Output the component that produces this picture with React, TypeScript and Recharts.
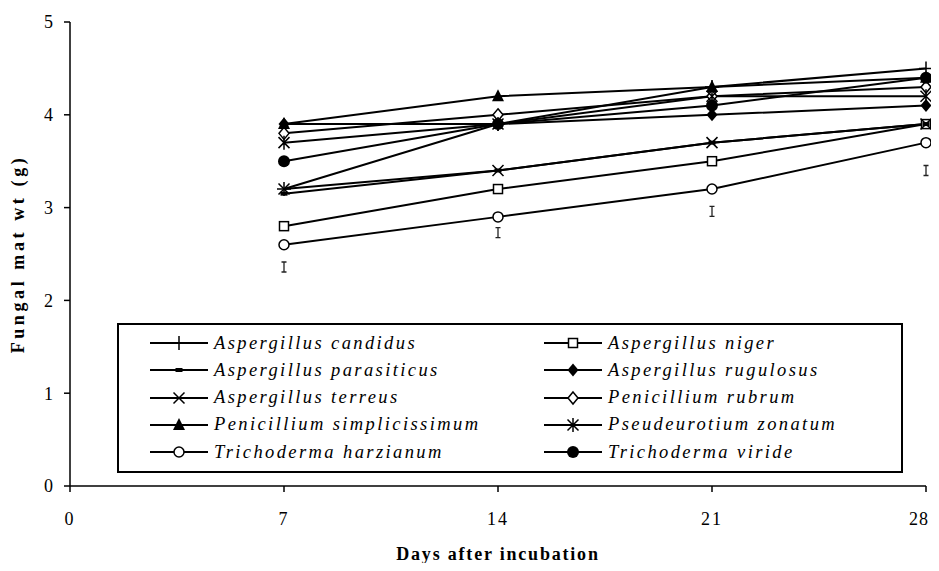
import React from "react";
import { LineChart, Line, XAxis, YAxis, Legend, Label } from "recharts";

const DAYS = [7, 14, 21, 28];
const X_TICKS = [0, 7, 14, 21, 28];
const Y_TICKS = [0, 1, 2, 3, 4, 5];

const CANDIDUS = [3.2, 3.9, 4.3, 4.5];
const NIGER = [2.8, 3.2, 3.5, 3.9];
const PARASITICUS = [3.15, 3.4, 3.7, 3.9];
const RUGULOSUS = [3.9, 3.9, 4.0, 4.1];
const TERREUS = [3.2, 3.4, 3.7, 3.9];
const RUBRUM = [3.8, 4.0, 4.2, 4.3];
const SIMPLICISSIMUM = [3.9, 4.2, 4.3, 4.4];
const ZONATUM = [3.7, 3.9, 4.2, 4.2];
const HARZIANUM = [2.6, 2.9, 3.2, 3.7];
const VIRIDE = [3.5, 3.9, 4.1, 4.4];
const LSD = [2.36, 2.73, 2.96, 3.4];

const SERIES = [
  { key: "candidus", name: "Aspergillus candidus", values: CANDIDUS, marker: "plus" },
  { key: "niger", name: "Aspergillus niger", values: NIGER, marker: "square" },
  { key: "parasiticus", name: "Aspergillus parasiticus", values: PARASITICUS, marker: "dash" },
  { key: "rugulosus", name: "Aspergillus rugulosus", values: RUGULOSUS, marker: "diamond" },
  { key: "terreus", name: "Aspergillus terreus", values: TERREUS, marker: "cross" },
  { key: "rubrum", name: "Penicillium rubrum", values: RUBRUM, marker: "openDiamond" },
  { key: "simplicissimum", name: "Penicillium simplicissimum", values: SIMPLICISSIMUM, marker: "triangle" },
  { key: "zonatum", name: "Pseudeurotium zonatum", values: ZONATUM, marker: "star" },
  { key: "harzianum", name: "Trichoderma harzianum", values: HARZIANUM, marker: "openCircle" },
  { key: "viride", name: "Trichoderma viride", values: VIRIDE, marker: "circle" },
];

const data = DAYS.map((day, i) => {
  const row: Record<string, number> = { day, lsd: LSD[i] };
  SERIES.forEach((s) => (row[s.key] = s.values[i]));
  return row;
});

const SERIF = '"Liberation Serif", "Times New Roman", serif';

function Marker({ kind, cx, cy }: { kind: string; cx: number; cy: number }) {
  const sw = 1.5;
  switch (kind) {
    case "plus":
      return <path d={`M${cx - 7},${cy}H${cx + 7}M${cx},${cy - 7}V${cy + 7}`} stroke="#000" strokeWidth={sw} fill="none" />;
    case "square":
      return <rect x={cx - 4.5} y={cy - 4.5} width={9} height={9} fill="#fff" stroke="#000" strokeWidth={sw} />;
    case "dash":
      return <rect x={cx - 3.5} y={cy - 2} width={7} height={4} fill="#000" />;
    case "diamond":
      return <polygon points={`${cx},${cy - 6.5} ${cx + 5.5},${cy} ${cx},${cy + 6.5} ${cx - 5.5},${cy}`} fill="#000" />;
    case "openDiamond":
      return <polygon points={`${cx},${cy - 6} ${cx + 5},${cy} ${cx},${cy + 6} ${cx - 5},${cy}`} fill="#fff" stroke="#000" strokeWidth={sw} />;
    case "cross":
      return <path d={`M${cx - 5.5},${cy - 5.5}L${cx + 5.5},${cy + 5.5}M${cx - 5.5},${cy + 5.5}L${cx + 5.5},${cy - 5.5}`} stroke="#000" strokeWidth={sw} fill="none" />;
    case "star":
      return <path d={`M${cx - 5.5},${cy - 5.5}L${cx + 5.5},${cy + 5.5}M${cx - 5.5},${cy + 5.5}L${cx + 5.5},${cy - 5.5}M${cx},${cy - 7}V${cy + 7}`} stroke="#000" strokeWidth={sw} fill="none" />;
    case "triangle":
      return <polygon points={`${cx},${cy - 7} ${cx + 6},${cy + 5} ${cx - 6},${cy + 5}`} fill="#000" />;
    case "openCircle":
      return <circle cx={cx} cy={cy} r={5} fill="#fff" stroke="#000" strokeWidth={sw} />;
    case "circle":
      return <circle cx={cx} cy={cy} r={6} fill="#000" />;
    default:
      return null;
  }
}

const makeDot = (kind: string) => (props: any) => {
  const { cx, cy, index } = props;
  if (cx == null || cy == null) return <g key={index} />;
  return <g key={index}><Marker kind={kind} cx={cx} cy={cy} /></g>;
};

// the little "I" marks (LSD bars) under each sampling day
const lsdDot = (props: any) => {
  const { cx, cy, index } = props;
  return (
    <path
      key={index}
      d={`M${cx - 2.5},${cy - 5}H${cx + 2.5}M${cx},${cy - 5}V${cy + 5}M${cx - 2.5},${cy + 5}H${cx + 2.5}`}
      stroke="#222"
      strokeWidth={1.3}
      fill="none"
    />
  );
};

// last x label sits right at the edge, nudge it in so it isn't cropped
const XTick = (props: any) => {
  const { x, y, payload } = props;
  const last = payload.value === X_TICKS[X_TICKS.length - 1];
  return (
    <text
      x={last ? x - 4 : x}
      y={y}
      dy="0.71em"
      textAnchor="middle"
      fill="#000"
      fontSize={18}
      fontFamily={SERIF}
      letterSpacing={last ? 1 : 2}
    >
      {payload.value}
    </text>
  );
};

function LegendBox() {
  return (
    <div
      style={{
        boxSizing: "border-box",
        width: 786,
        height: 150,
        border: "2px solid #000",
        background: "#fff",
        position: "relative",
        fontFamily: SERIF,
        fontStyle: "italic",
        fontSize: 18.5,
        letterSpacing: 2.4,
        color: "#000",
      }}
    >
      {SERIES.map((s, i) => {
        const col = i % 2;
        const row = Math.floor(i / 2);
        return (
          <div
            key={s.key}
            style={{
              position: "absolute",
              left: col === 0 ? 30 : 424,
              top: 18 + row * 27.3 - 12,
              height: 24,
              display: "flex",
              alignItems: "center",
              whiteSpace: "nowrap",
            }}
          >
            <svg width={62} height={24} style={{ display: "block" }}>
              <line x1={1} y1={12} x2={59} y2={12} stroke="#000" strokeWidth={2} />
              <Marker kind={s.marker} cx={30} cy={12} />
            </svg>
            <span style={{ marginLeft: 3 }}>{s.name}</span>
          </div>
        );
      })}
    </div>
  );
}

const tickStyle = { fill: "#000", fontSize: 18, fontFamily: SERIF, letterSpacing: 2 };

export default function App() {
  return (
    <LineChart width={923} height={555} data={data} margin={{ top: 14, right: 5, bottom: 0, left: 0 }}>
      <XAxis
        dataKey="day"
        type="number"
        domain={[0, 28]}
        ticks={X_TICKS}
        height={77}
        tickSize={6}
        tickMargin={20}
        axisLine={{ stroke: "#000", strokeWidth: 1.5 }}
        tickLine={{ stroke: "#000", strokeWidth: 1.5 }}
        tick={<XTick />}
      >
        <Label
          content={({ viewBox }: any) => (
            <text
              x={viewBox.x + viewBox.width / 2}
              y={546}
              textAnchor="middle"
              dominantBaseline="central"
              fontFamily={SERIF}
              fontWeight="bold"
              fontSize={18}
              fill="#000"
              letterSpacing={1.8}
            >
              Days after incubation
            </text>
          )}
        />
      </XAxis>
      <YAxis
        type="number"
        domain={[0, 5]}
        ticks={Y_TICKS}
        width={62}
        tickSize={6}
        tickMargin={9}
        axisLine={{ stroke: "#000", strokeWidth: 1.5 }}
        tickLine={{ stroke: "#000", strokeWidth: 1.5 }}
        tick={tickStyle}
      >
        <Label
          content={({ viewBox }: any) => {
            const x = 10;
            const y = viewBox.y + viewBox.height / 2;
            return (
              <text
                x={x}
                y={y}
                transform={`rotate(-90 ${x} ${y})`}
                textAnchor="middle"
                dominantBaseline="central"
                fontFamily={SERIF}
                fontWeight="bold"
                fontSize={18}
                fill="#000"
                letterSpacing={3.6}
              >
                Fungal mat wt (g)
              </text>
            );
          }}
        />
      </YAxis>
      <Legend
        verticalAlign="middle"
        layout="horizontal"
        content={() => <LegendBox />}
        wrapperStyle={{ position: "absolute", left: 109, top: 315, width: 786, height: 150 }}
      />
      <Line dataKey="lsd" stroke="none" dot={lsdDot} isAnimationActive={false} legendType="none" />
      {SERIES.map((s) => (
        <Line
          key={s.key}
          dataKey={s.key}
          name={s.name}
          type="linear"
          stroke="#000"
          strokeWidth={2}
          dot={makeDot(s.marker)}
          activeDot={false}
          isAnimationActive={false}
        />
      ))}
    </LineChart>
  );
}
